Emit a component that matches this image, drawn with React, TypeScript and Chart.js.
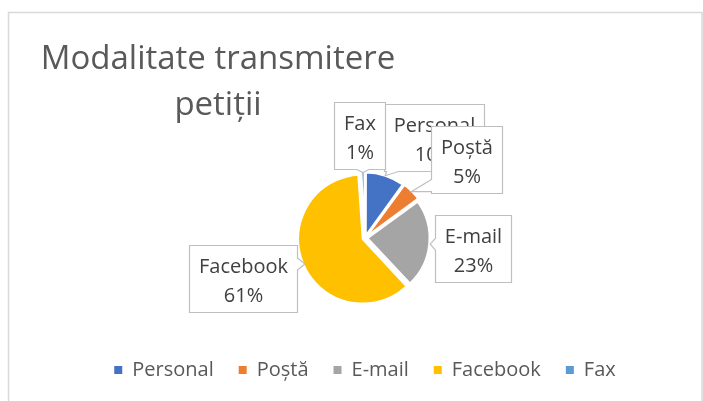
import React, { useEffect, useRef } from "react";
import { Chart, registerables } from "chart.js";

Chart.register(...registerables);

const categories = ["Personal", "Poștă", "E-mail", "Facebook", "Fax"];
const percentValues = [10, 5, 23, 61, 1];
const sliceColors = ["#4472C4", "#ED7D31", "#A5A5A5", "#FFC000", "#5B9BD5"];
const titleLines = ["Modalitate transmitere", "petiții"];
// per-label nudges (px) applied after the automatic outside placement
const labelNudges = [
  [37, 0],
  [18, 5],
  [0, 0],
  [-3, -11],
  [-2, 1],
];

const FONT = '"Open Sans", "Noto Sans", sans-serif';

function calloutPath(
  ctx: CanvasRenderingContext2D,
  L: number,
  T: number,
  R: number,
  B: number,
  tx: number,
  ty: number
) {
  const cx = (L + R) / 2;
  const cy = (T + B) / 2;
  const hw = 6;
  const clamp = (v: number, a: number, b: number) => Math.max(a, Math.min(b, v));
  ctx.beginPath();
  const inside = tx >= L && tx <= R && ty >= T && ty <= B;
  if (inside) {
    ctx.rect(L, T, R - L, B - T);
    return;
  }
  const nx = (tx - cx) / ((R - L) / 2);
  const ny = (ty - cy) / ((B - T) / 2);
  let side: string;
  if (Math.abs(nx) > Math.abs(ny)) side = nx > 0 ? "right" : "left";
  else side = ny > 0 ? "bottom" : "top";
  ctx.moveTo(L, T);
  if (side === "top") {
    const bx = clamp(tx, L + hw + 2, R - hw - 2);
    ctx.lineTo(bx - hw, T);
    ctx.lineTo(tx, ty);
    ctx.lineTo(bx + hw, T);
  }
  ctx.lineTo(R, T);
  if (side === "right") {
    const by = clamp(ty, T + hw + 2, B - hw - 2);
    ctx.lineTo(R, by - hw);
    ctx.lineTo(tx, ty);
    ctx.lineTo(R, by + hw);
  }
  ctx.lineTo(R, B);
  if (side === "bottom") {
    const bx = clamp(tx, L + hw + 2, R - hw - 2);
    ctx.lineTo(bx + hw, B);
    ctx.lineTo(tx, ty);
    ctx.lineTo(bx - hw, B);
  }
  ctx.lineTo(L, B);
  if (side === "left") {
    const by = clamp(ty, T + hw + 2, B - hw - 2);
    ctx.lineTo(L, by + hw);
    ctx.lineTo(tx, ty);
    ctx.lineTo(L, by - hw);
  }
  ctx.closePath();
}

const frameAndTitlePlugin = {
  id: "frameAndTitle",
  beforeDraw(chart: any) {
    const ctx = chart.ctx as CanvasRenderingContext2D;
    ctx.save();
    ctx.fillStyle = "#ffffff";
    ctx.fillRect(0, 0, chart.width, chart.height);
    ctx.strokeStyle = "#d9d9d9";
    ctx.lineWidth = 1.5;
    ctx.strokeRect(8.5, 12.5, chart.width - 9.5, chart.height + 10);
    ctx.restore();
  },
  afterDraw(chart: any) {
    const ctx = chart.ctx as CanvasRenderingContext2D;
    ctx.save();
    ctx.fillStyle = "#595959";
    ctx.font = `33px ${FONT}`;
    ctx.textAlign = "center";
    ctx.textBaseline = "alphabetic";
    titleLines.forEach((line, i) => {
      ctx.fillText(line, 218, 69 + i * 46);
    });
    ctx.restore();
  },
};

const calloutLabelPlugin = {
  id: "calloutLabels",
  afterDatasetsDraw(chart: any) {
    const ctx = chart.ctx as CanvasRenderingContext2D;
    const meta = chart.getDatasetMeta(0);
    const data = chart.data.datasets[0].data as number[];
    const total = data.reduce((a, b) => a + b, 0);
    ctx.save();
    ctx.font = `20px ${FONT}`;
    meta.data.forEach((arc: any, i: number) => {
      const p = arc.getProps(["x", "y", "startAngle", "endAngle", "outerRadius"], true);
      const shift = (arc.options.offset || 0) / 4;
      const mid = (p.startAngle + p.endAngle) / 2;
      const dx = Math.cos(mid);
      const dy = Math.sin(mid);
      const r = p.outerRadius + shift;
      const line1 = chart.data.labels[i] as string;
      const line2 = Math.round((data[i] / total) * 100) + "%";
      const w = Math.max(ctx.measureText(line1).width, ctx.measureText(line2).width) + 19;
      const h = 67;
      const gap = 6;
      const px = p.x + dx * (r + gap);
      const py = p.y + dy * (r + gap);
      const t = Math.min(w / 2 / Math.max(Math.abs(dx), 1e-6), h / 2 / Math.max(Math.abs(dy), 1e-6));
      const cx = px + dx * t + labelNudges[i][0];
      const cy = py + dy * t + labelNudges[i][1];
      const L = Math.round(cx - w / 2) + 0.5;
      const T = Math.round(cy - h / 2) + 0.5;
      const R = L + Math.round(w);
      const B = T + h;
      const tx = p.x + dx * (r + 1);
      const ty = p.y + dy * (r + 1);
      calloutPath(ctx, L, T, R, B, tx, ty);
      ctx.fillStyle = "#ffffff";
      ctx.fill();
      ctx.strokeStyle = "#bfbfbf";
      ctx.lineWidth = 1.2;
      ctx.stroke();
      ctx.fillStyle = "#404040";
      ctx.textAlign = "center";
      ctx.textBaseline = "alphabetic";
      const mx = (L + R) / 2;
      const my = (T + B) / 2;
      ctx.fillText(line1, mx, my - 6.5);
      ctx.fillText(line2, mx, my + 22.5);
    });
    ctx.restore();
  },
};

export default function App() {
  const canvasRef = useRef<HTMLCanvasElement | null>(null);

  useEffect(() => {
    document.body.style.margin = "0";
    let chart: Chart | null = null;
    let cancelled = false;
    const make = () => {
      if (cancelled || !canvasRef.current) return;
      const defaultGen = (Chart as any).overrides.doughnut.plugins.legend.labels.generateLabels;
      chart = new Chart(canvasRef.current, {
        type: "pie",
        data: {
          labels: categories,
          datasets: [
            {
              data: percentValues,
              backgroundColor: sliceColors,
              borderColor: "#ffffff",
              borderWidth: 2,
              offset: 10,
            },
          ],
        },
        options: {
          responsive: false,
          animation: false,
          radius: 62,
          layout: { padding: { top: 141, bottom: 11, left: 27, right: 0 } },
          plugins: {
            title: { display: false },
            tooltip: { enabled: false },
            legend: {
              display: true,
              position: "bottom",
              labels: {
                color: "#595959",
                font: { family: FONT, size: 20 },
                boxWidth: 8,
                boxHeight: 8,
                padding: 25,
                generateLabels: (c: any) =>
                  defaultGen(c).map((item: any) => ({
                    ...item,
                    lineWidth: 0,
                    strokeStyle: item.fillStyle,
                  })),
              },
            },
          },
        } as any,
        plugins: [frameAndTitlePlugin, calloutLabelPlugin],
      });
    };
    const fontsReady = (document as any).fonts
      ? Promise.all([
          (document as any).fonts.load(`20px "Open Sans"`),
          (document as any).fonts.load(`33px "Open Sans"`),
        ]).catch(() => null)
      : Promise.resolve(null);
    fontsReady.then(make);
    return () => {
      cancelled = true;
      if (chart) chart.destroy();
    };
  }, []);

  return (
    <div style={{ position: "absolute", left: 0, top: 0, width: 703, height: 401 }}>
      <canvas ref={canvasRef} width={703} height={401} />
    </div>
  );
}
